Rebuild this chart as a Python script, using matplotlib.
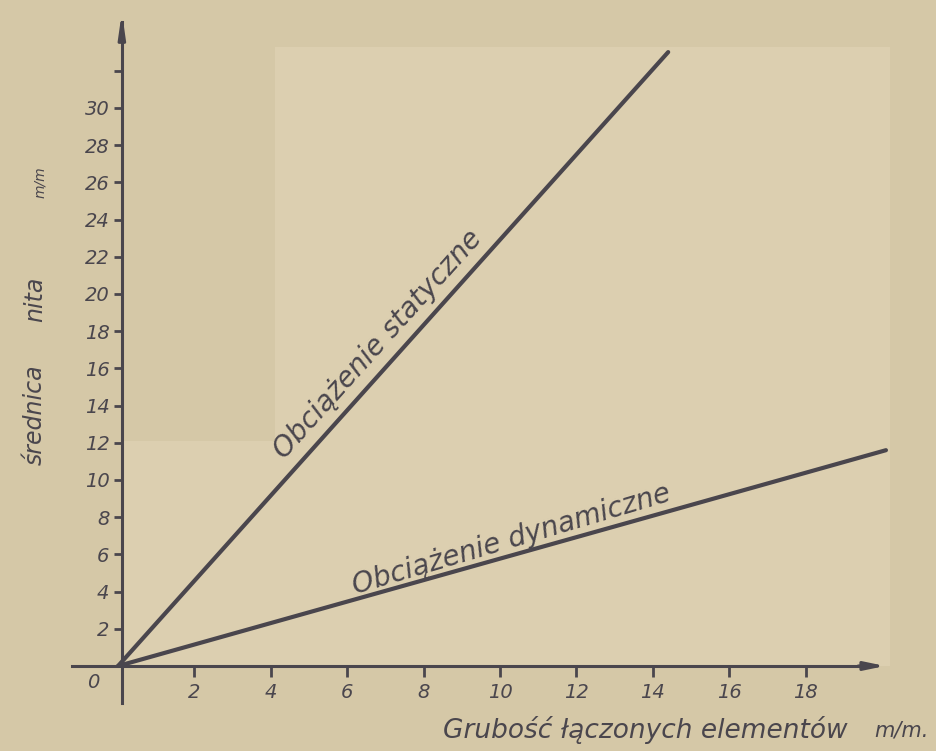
import numpy as np
import matplotlib.pyplot as plt
from matplotlib.patches import Polygon

# thickness of joined elements (mm) vs rivet diameter (mm)
static_x = [0, 14.4]
static_y = [0, 33.0]
dynamic_x = [0, 20.1]
dynamic_y = [0, 11.6]

x_ticks = [2, 4, 6, 8, 10, 12, 14, 16, 18]
y_ticks = [2, 4, 6, 8, 10, 12, 14, 16, 18, 20, 22, 24, 26, 28, 30, 32]
y_labels = [str(v) for v in y_ticks[:-1]] + ['']

ink = '#4a464d'
paper = '#d5c8a7'
paper_light = '#dccfb0'

fig = plt.figure(figsize=(9.36, 7.51), dpi=100, facecolor=paper)
ax = fig.add_axes([0, 0, 1, 1])
ax.set_facecolor(paper)
ax.set_xlim(-3.09, 21.41)
ax.set_ylim(-4.57, 35.8)

# lighter sheet of paper behind the plot
ax.add_patch(Polygon([(0.1, 0), (0.1, 12.1), (4.1, 12.1), (4.1, 33.3), (20.2, 33.3), (20.2, 0)],
                     facecolor=paper_light, edgecolor='none', zorder=0))

# axes through origin
for s in ['top', 'right']:
    ax.spines[s].set_visible(False)
ax.spines['left'].set_position(('data', 0.1))
ax.spines['bottom'].set_position(('data', 0))
ax.spines['left'].set_bounds(-2.0, 34.6)
ax.spines['bottom'].set_bounds(-1.2, 19.6)
for s in ['left', 'bottom']:
    ax.spines[s].set_color(ink)
    ax.spines[s].set_linewidth(2.2)
    ax.spines[s].set_zorder(3)

ax.annotate('', xy=(20.15, 0), xytext=(19.3, 0),
            arrowprops=dict(arrowstyle='-|>,head_length=1.2,head_width=0.25', color=ink, lw=2.2))
ax.annotate('', xy=(0.1, 35.3), xytext=(0.1, 33.5),
            arrowprops=dict(arrowstyle='-|>,head_length=1.4,head_width=0.2', color=ink, lw=2.2))

tick_font = dict(family='DejaVu Sans', style='italic', size=14)
ax.set_xticks(x_ticks)
ax.set_xticklabels([str(v) for v in x_ticks], color=ink, fontdict=tick_font)
ax.set_yticks(y_ticks)
ax.set_yticklabels(y_labels, color=ink, fontdict=tick_font)
ax.tick_params(axis='x', direction='out', length=8, width=2, color=ink, pad=4)
ax.tick_params(axis='y', direction='out', length=6, width=2, color=ink, pad=3)
ax.text(-0.65, -0.9, '0', ha='center', va='center', color=ink, **tick_font)

# the two curves
ax.plot(static_x, static_y, color=ink, lw=3, solid_capstyle='round', zorder=4)
ax.plot(dynamic_x, dynamic_y, color=ink, lw=3, solid_capstyle='round', zorder=4)

lab_font = dict(family='DejaVu Sans', style='italic', size=20, color=ink)
ax.text(6.8, 17.3, 'Obciążenie statyczne', rotation=48, ha='center', va='center', **lab_font)
ax.text(10.3, 6.8, 'Obciążenie dynamiczne', rotation=16.5, ha='center', va='center', **lab_font)

# axis titles
ax_font = dict(family='DejaVu Sans', style='italic', color=ink)
ax.text(-2.17, 13.5, 'średnica', rotation=90, ha='center', va='center', size=17, **ax_font)
ax.text(-2.17, 19.7, 'nita', rotation=90, ha='center', va='center', size=17, **ax_font)
ax.text(-2.05, 26.0, 'm/m', rotation=90, ha='center', va='center', size=10, **ax_font)
ax.text(13.8, -3.45, 'Grubość łączonych elementów', ha='center', va='center', size=19, **ax_font)
ax.text(20.5, -3.45, 'm/m.', ha='center', va='center', size=15, **ax_font)

fig.savefig('out.png', dpi=100, facecolor=paper)
